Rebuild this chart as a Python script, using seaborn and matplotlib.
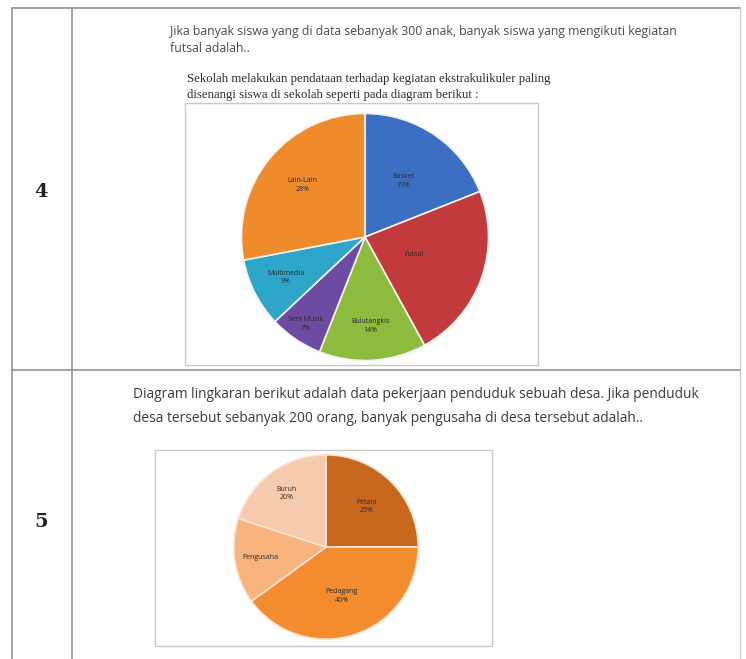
import matplotlib
matplotlib.use("Agg")
import matplotlib.pyplot as plt
import matplotlib.patches as mpatches
import numpy as np
import seaborn as sns

# Data: chart 4 (ekstrakurikuler)
ekskul_names = ['Basket', 'Futsal', 'Bulutangkis', 'Seni Musik', 'Multimedia', 'Lain-Lain']
ekskul_pct = [19, 23, 14, 7, 9, 28]
ekskul_show_pct = [True, False, True, True, True, True]
ekskul_colors = ['#3b6fc2', '#c23a3c', '#8dbb3e', '#6e4ba2', '#2ea6c9', '#f08b2b']

# Data: chart 5 (pekerjaan penduduk)
kerja_names = ['Petani', 'Pedagang', 'Pengusaha', 'Buruh']
kerja_pct = [25, 40, 15, 20]
kerja_show_pct = [True, True, False, True]
kerja_colors = ['#c8681f', '#f38c2e', '#f8b47c', '#f6cbad']

q4_text = ["Jika banyak siswa yang di data sebanyak 300 anak, banyak siswa yang mengikuti kegiatan",
           "futsal adalah.."]
q4_intro = ["Sekolah melakukan pendataan terhadap kegiatan ekstrakulikuler paling",
            "disenangi siswa di sekolah seperti pada diagram berikut :"]
q5_text = ["Diagram lingkaran berikut adalah data pekerjaan penduduk sebuah desa. Jika penduduk",
           "desa tersebut sebanyak 200 orang, banyak pengusaha di desa tersebut adalah.."]

sns.set_theme(style="white")
plt.rcParams['font.family'] = ['Open Sans', 'DejaVu Sans']

W, H = 746, 659
fig = plt.figure(figsize=(W / 100, H / 100), dpi=100)
fig.patch.set_facecolor('white')

# background axes in pixel coordinates
bg = fig.add_axes([0, 0, 1, 1])
bg.set_xlim(0, W)
bg.set_ylim(H, 0)
bg.axis('off')

line_kw = dict(color='#8a8a8a', lw=1.1)
bg.plot([12, 740], [8, 8], **line_kw)
bg.plot([12, 12], [8, H], **line_kw)
bg.plot([72, 72], [8, H], **line_kw)
bg.plot([740, 740], [8, H], color='#c8c8c8', lw=0.8)
bg.plot([12, 740], [370, 370], **line_kw)

bg.text(41, 192, '4', fontsize=14, fontweight='bold', family='DejaVu Serif',
        ha='center', va='center', color='#222222')
bg.text(41, 522, '5', fontsize=14, fontweight='bold', family='DejaVu Serif',
        ha='center', va='center', color='#222222')

for i, line in enumerate(q4_text):
    bg.text(170, 31 + i * 17, line, fontsize=8.8, color='#4a4a4a', va='center', ha='left')
for i, line in enumerate(q4_intro):
    bg.text(187, 79 + i * 16, line, fontsize=9.2, color='#2a2a2a', va='center', ha='left',
            family='Liberation Serif')
for i, line in enumerate(q5_text):
    bg.text(133, 395 + i * 24, line, fontsize=9.9, color='#3a3a3a', va='center', ha='left')

# chart frames
bg.add_patch(mpatches.Rectangle((185, 103), 353, 262, fill=False, ec='#c9c9c9', lw=1))
bg.add_patch(mpatches.Rectangle((155, 450), 337, 196, fill=False, ec='#c9c9c9', lw=1))


def draw_pie(cx, cy, r, values, names, show_pct, colors, dists, edge):
    ax = fig.add_axes([(cx - r) / W, (H - cy - r) / H, 2 * r / W, 2 * r / H])
    wedges, _ = ax.pie(values, colors=colors, startangle=90, counterclock=False,
                       wedgeprops=dict(edgecolor=edge, linewidth=1.2))
    for w, name, v, sp, d in zip(wedges, names, values, show_pct, dists):
        mid = np.deg2rad((w.theta1 + w.theta2) / 2)
        lab = f"{name}\n{v}%" if sp else name
        ax.text(d * np.cos(mid), d * np.sin(mid), lab, ha='center', va='center',
                fontsize=5, color='#2a2a2a', linespacing=1.3)
    ax.set_xlim(-1.02, 1.02)
    ax.set_ylim(-1.02, 1.02)
    ax.set_aspect('equal')
    ax.axis('off')
    return ax


draw_pie(365, 237, 126, ekskul_pct, ekskul_names, ekskul_show_pct, ekskul_colors,
         [0.55, 0.42, 0.72, 0.85, 0.72, 0.66], '#f2f2f2')
draw_pie(326, 547, 94, kerja_pct, kerja_names, kerja_show_pct, kerja_colors,
         [0.62, 0.56, 0.72, 0.72], '#fbe3d2')

fig.savefig('out.png', dpi=100, facecolor='white')
